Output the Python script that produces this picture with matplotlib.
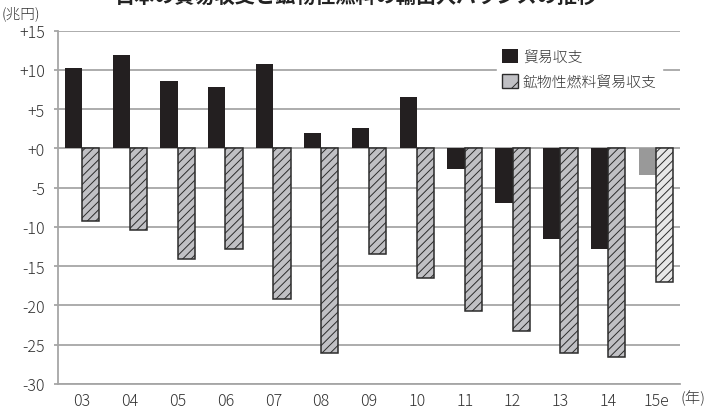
import matplotlib
matplotlib.use("Agg")
import matplotlib.pyplot as plt
from matplotlib.patches import Patch
import numpy as np

plt.rcParams['font.family'] = ['Noto Sans CJK JP', 'DejaVu Sans']
plt.rcParams['hatch.linewidth'] = 0.7

# Fiscal years and balances (trillion yen)
years = ['03', '04', '05', '06', '07', '08', '09', '10', '11', '12', '13', '14', '15e']
trade_balance = [10.2, 11.9, 8.65, 7.85, 10.8, 1.95, 2.6, 6.6, -2.6, -6.95, -11.55, -12.85, -3.4]
fuel_balance = [-9.2, -10.4, -14.1, -12.8, -19.2, -26.0, -13.4, -16.45, -20.7, -23.3, -26.0, -26.6, -17.0]
ytick_values = [15, 10, 5, 0, -5, -10, -15, -20, -25, -30]
ytick_labels = ['+15', '+10', '+5', '+0', '-5', '-10', '-15', '-20', '-25', '-30']

title = '日本の貿易収支と鉱物性燃料の輸出入バランスの推移'
legend_labels = ['貿易収支', '鉱物性燃料貿易収支']

grid_color = '#a6a6a6'
text_color = '#333333'
dark = '#231f20'
edge = '#2b2b2b'

fig = plt.figure(figsize=(7.07, 4.10), dpi=100)
ax = fig.add_axes([58 / 707, 25 / 410, (680 - 58) / 707, (385 - 31.7) / 410])

x = np.arange(len(years))
w = 0.36
black_colors = [dark] * (len(years) - 1) + ['#999999']
hatch_faces = ['#c0c0c4'] * (len(years) - 1) + ['#e8e8e8']

ax.bar(x - w / 2, trade_balance, width=w, color=black_colors, linewidth=0, zorder=3)
ax.bar(x + w / 2, fuel_balance, width=w, color=hatch_faces, edgecolor=edge,
       linewidth=1.1, hatch='////', zorder=3)

ax.set_xlim(-0.5, len(years) - 0.5)
ax.set_ylim(-30, 15)
ax.set_yticks(ytick_values)
ax.set_yticklabels(ytick_labels)
ax.set_xticks(x)
ax.set_xticklabels(years)

ax.set_axisbelow(True)
ax.yaxis.grid(True, color=grid_color, linewidth=1.3)
ax.xaxis.grid(False)
for side in ['top', 'right']:
    ax.spines[side].set_visible(False)
ax.spines['left'].set_color(grid_color)
ax.spines['left'].set_linewidth(1.3)
ax.spines['bottom'].set_color(grid_color)
ax.spines['bottom'].set_linewidth(1.3)

ax.tick_params(axis='y', length=3, width=1.3, color=grid_color, pad=6.5,
               labelsize=11.5, labelcolor=text_color)
ax.tick_params(axis='x', length=0, pad=5.5, labelsize=11.5, labelcolor=text_color)
for lab in ax.get_xticklabels() + ax.get_yticklabels():
    lab.set_fontweight('light')

handles = [
    Patch(facecolor=dark, edgecolor=dark, linewidth=0),
    Patch(facecolor='#c0c0c4', edgecolor=edge, linewidth=1.0, hatch='/'),
]
leg = ax.legend(handles, legend_labels, loc='upper left',
                bbox_to_anchor=((497 - 58) / 622, (385 - 45) / 353.3),
                borderaxespad=0, borderpad=0.35, frameon=True, fancybox=False,
                fontsize=10.7, handlelength=1.05, handleheight=1.0,
                handletextpad=0.35, labelspacing=0.7)
leg.get_frame().set_facecolor('white')
leg.get_frame().set_edgecolor('white')
leg.get_frame().set_alpha(1)
for t in leg.get_texts():
    t.set_color(text_color)
    t.set_fontweight('light')

fig.text(356 / 707, 1 - 2.8 / 410, title, ha='center', va='baseline',
         fontsize=14.5, fontweight='bold', color='#222222')
fig.text(2 / 707, 1 - 14 / 410, '(兆円)', ha='left', va='center',
         fontsize=10.5, color=text_color, fontweight='light')
fig.text(680 / 707, 1 - 398 / 410, '(年)', ha='left', va='center',
         fontsize=11, color=text_color, fontweight='light')

fig.savefig('out.png', dpi=100)
